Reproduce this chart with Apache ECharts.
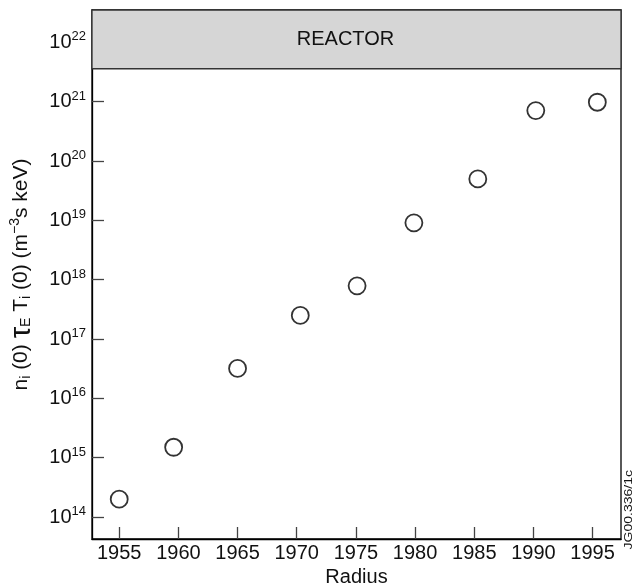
<!DOCTYPE html>
<html>
<head>
<meta charset="utf-8">
<script src="https://cdn.jsdelivr.net/npm/echarts@6/dist/echarts.min.js"></script>
<style>
  html, body { margin: 0; padding: 0; background: #fff; }
  #chart { width: 632px; height: 588px; }
</style>
</head>
<body>
<div id="chart"></div>
<script>
// year of each device result and its fusion product n_i(0) tau_E T_i(0)
const years = [1955, 1959.6, 1965, 1970.3, 1975.1, 1979.9, 1985.3, 1990.2, 1995.4]
const values = [2.0e14, 1.5e15, 3.2e16, 2.5e17, 7.9e17, 9.1e18, 5.0e19, 7.1e20, 9.8e20]

const xTicks = [1955, 1960, 1965, 1970, 1975, 1980, 1985, 1990, 1995]
const yTickExps = [14, 15, 16, 17, 18, 19, 20, 21, 22]
const reactorFrom = 21.556 // lower edge of reactor band (log10)

const font = 'Arial, "Liberation Sans", Helvetica, sans-serif'

const chart = echarts.init(document.getElementById('chart'), null, { renderer: 'canvas' })

const option = {
  backgroundColor: '#fff',
  animation: false,
  grid: {
    left: 92, right: 11, top: 10, bottom: 49,
    outerBoundsMode: 'none',
    containLabel: false,
    show: true, borderColor: '#000', borderWidth: 1.3
  },
  xAxis: {
    type: 'value',
    min: 1952.7,
    max: 1997.4,
    name: 'Radius',
    nameLocation: 'middle',
    nameGap: 28,
    nameTextStyle: { fontFamily: font, fontSize: 20, color: '#111' },
    axisLine: { lineStyle: { color: '#000', width: 1.3 } },
    axisTick: { inside: true, length: 12, customValues: xTicks, lineStyle: { color: '#444', width: 1.3 } },
    axisLabel: {
      customValues: xTicks, margin: 4,
      formatter: v => String(v),
      fontFamily: font, fontSize: 20, color: '#111'
    },
    splitLine: { show: false }
  },
  yAxis: {
    type: 'value',
    min: 13.63,
    max: 22.546,
    name: '{n|n}{sub|i}{n| (0) }{tau|τ}{sub|E}{n| T}{sub|i}{n| (0) (m}{sup|−3}{n|s keV)}',
    nameLocation: 'middle',
    nameGap: 56,
    nameTextStyle: {
      fontFamily: font, fontSize: 21, color: '#111',
      rich: {
        n: { fontFamily: font, fontSize: 21, color: '#111' },
        tau: { fontFamily: font, fontSize: 29, color: '#111' },
        sub: { fontFamily: font, fontSize: 14, color: '#111', padding: [10, 0, 0, 0] },
        sup: { fontFamily: font, fontSize: 14, color: '#111', padding: [0, 0, 12, 0] }
      }
    },
    axisLine: { lineStyle: { color: '#000', width: 1.3 } },
    axisTick: { inside: true, length: 12, customValues: yTickExps, lineStyle: { color: '#444', width: 1.3 } },
    axisLabel: {
      customValues: yTickExps,
      margin: 6,
      formatter: v => '{b|10}{s|' + v + '}',
      rich: {
        b: { fontFamily: font, fontSize: 20, color: '#111' },
        s: { fontFamily: font, fontSize: 13, color: '#111', padding: [0, 0, 11, 0] }
      }
    },
    splitLine: { show: false }
  },
  graphic: [{
    type: 'text',
    left: 624,
    top: 470,
    rotation: Math.PI / 2,
    scaleX: 1.4,
    style: { text: 'JG00.336/1c', fontFamily: font, fontSize: 10, fill: '#111' }
  }],
  series: [{
    type: 'scatter',
    data: years.map((y, i) => [y, Math.log10(values[i])]),
    symbol: 'circle',
    symbolSize: 17,
    itemStyle: { color: '#fff', borderColor: '#000', borderWidth: 1.8 },
    markArea: {
      silent: true,
      itemStyle: { color: '#d6d6d6', borderColor: '#333', borderWidth: 1.3 },
      label: {
        position: 'inside',
        offset: [-11, 0],
        fontFamily: font, fontSize: 20, color: '#111'
      },
      data: [[
        { name: 'REACTOR', yAxis: reactorFrom },
        { yAxis: 22.546 }
      ]]
    },
    z: 3
  }]
}

chart.setOption(option)
</script>
</body>
</html>
